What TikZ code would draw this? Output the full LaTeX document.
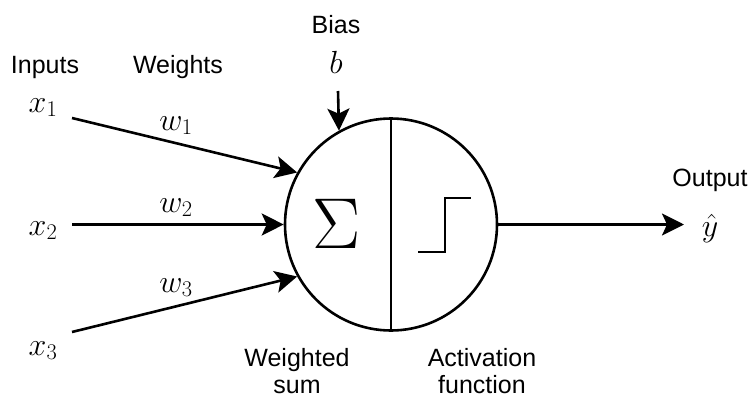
\RequirePackage{fix-cm}
\documentclass[tikz,border=0pt]{standalone}
\usepackage[no-math]{fontspec}
\setmainfont{Liberation Sans}
\usetikzlibrary{arrows.meta}
\begin{document}
\begin{tikzpicture}[x=1pt,y=-1pt,
  lbl/.style={font=\fontsize{25}{27}\selectfont, inner sep=0pt, align=center},
  mth/.style={font=\fontsize{32}{36}\selectfont, inner sep=0pt, anchor=base},
  conn/.style={line width=2.6pt, -{Stealth[length=22pt,width=22pt,inset=5pt]}},
  plain/.style={line width=2.6pt}
]
\useasboundingbox (0,0) rectangle (753,399);
% neuron
\node[circle, draw, line width=2.6pt, minimum size=212pt, inner sep=0pt] (neuron) at (391,224.5) {};
\draw[plain] (neuron.north) -- (neuron.south);
\node[font=\fontsize{72}{80}\selectfont, inner sep=0pt] (sigma) at (337,224) {$\Sigma$};
\coordinate (st1) at (418,252);
\coordinate (st2) at (445,252);
\coordinate (st3) at (445,198);
\coordinate (st4) at (471,198);
\draw[plain] (st1) -- (st2) -- (st3) -- (st4);
% labels
\node[lbl, anchor=base] (inputs) at (45,73) {Inputs};
\node[lbl, anchor=base] (weights) at (178,73) {Weights};
\node[lbl, anchor=base] (bias) at (336,33) {Bias};
\node[mth] (b) at (336,73) {$b$};
\node[mth] (x1) at (43,112) {$x_1$};
\node[mth] (x2) at (43,235) {$x_2$};
\node[mth] (x3) at (43,355) {$x_3$};
\node[mth] (w1) at (176,130) {$w_1$};
\node[mth] (w2) at (176,212) {$w_2$};
\node[mth] (w3) at (176,292) {$w_3$};
\node[lbl, anchor=base] (output) at (710,186) {Output};
\node[mth] (yhat) at (710,236) {$\hat{y}$};
\node[lbl] (wsum) at (297,371) {Weighted\\sum};
\node[lbl] (act) at (482,371) {Activation\\function};
% connectors
\coordinate (s1) at (72,118);
\coordinate (s2) at (72,224.5);
\coordinate (s3) at (72,332);
\coordinate (sb) at (338,91);
\coordinate (yend) at (684,224.5);
\draw[conn] (s1) -- (neuron.151);
\draw[conn] (s2) -- (neuron.west);
\draw[conn] (s3) -- (neuron.209);
\draw[conn] (sb) -- (neuron.119);
\draw[conn] (neuron.east) -- (yend);
\end{tikzpicture}
\end{document}
